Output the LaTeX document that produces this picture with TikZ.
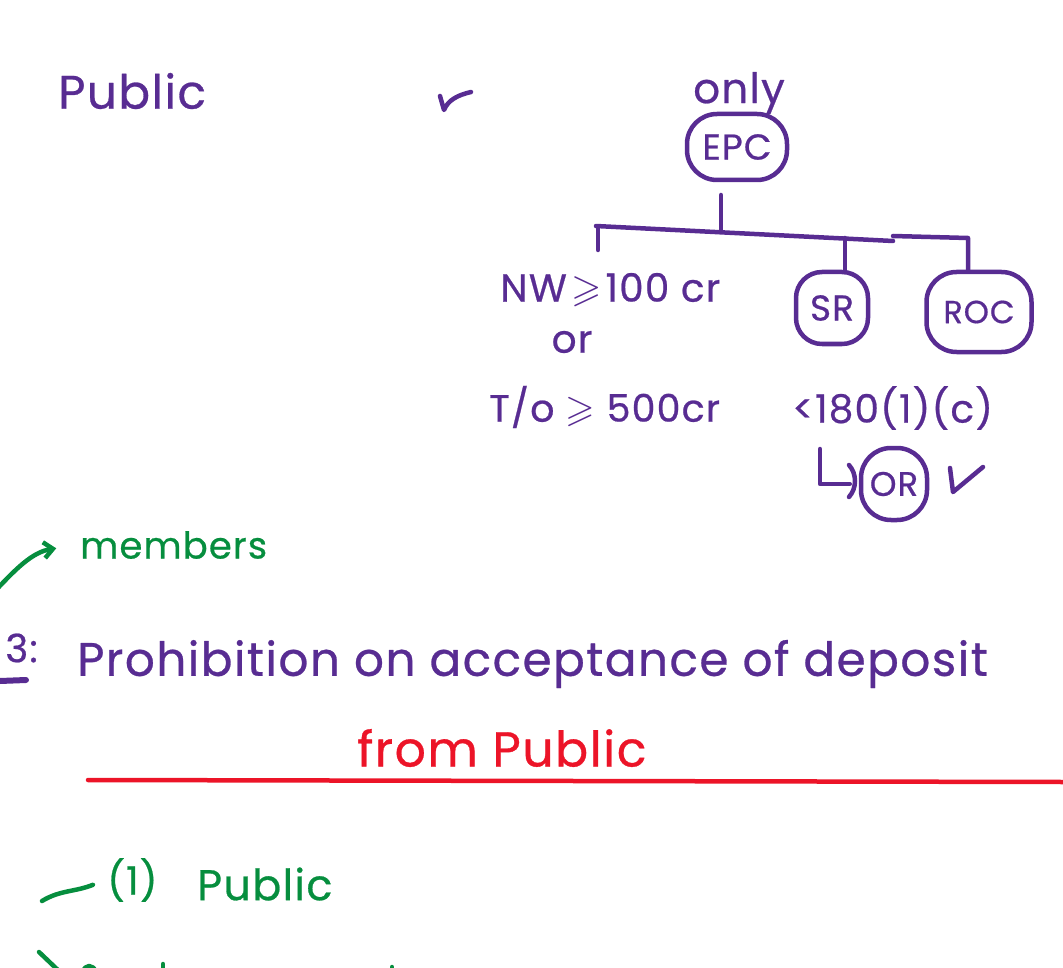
\documentclass[tikz,border=0pt]{standalone}
\usepackage{amssymb}
\usepackage{fontspec}
\setmainfont{Poppins}[LetterSpace=3,FakeBold=0.6]
\usetikzlibrary{arrows.meta}
\definecolor{penpurple}{RGB}{88,44,146}
\definecolor{pengreen}{RGB}{6,142,62}
\definecolor{penred}{RGB}{236,20,40}
\tikzset{every picture/.style={line width=4.5pt}}
\tikzset{
  ink/.style={line cap=round,line join=round},
  purpleink/.style={ink,color=penpurple},
  greenink/.style={ink,color=pengreen},
  redink/.style={ink,color=penred},
  notetext/.style={inner sep=0pt,font=\fontsize{47}{52}\selectfont},
  smalltext/.style={inner sep=0pt,font=\fontsize{39}{44}\selectfont},
  blob/.style={draw,rounded corners=30pt,inner sep=0pt,font=\fontsize{36}{40}\selectfont}
}

\begin{document}
\begin{tikzpicture}[x=1pt,y=1pt,yscale=-1,xscale=1]
\useasboundingbox (0,0) rectangle (1063,968);

% top row
\node (public) [notetext,purpleink,anchor=west] at (56,91) {Public};
\node (only) [smalltext,purpleink,font=\fontsize{42}{46}\selectfont] at (739,93) {only};

% boxes
\node (epc) [blob,purpleink,minimum width=100pt,minimum height=66pt] at (737,147) {EPC};
\node (sr) [blob,purpleink,rounded corners=26pt,minimum width=72pt,minimum height=72pt] at (832,308) {SR};
\node (roc) [blob,purpleink,font=\fontsize{32}{36}\selectfont,minimum width=105pt,minimum height=80pt] at (979,312) {ROC};
\node (or) [blob,purpleink,font=\fontsize{34}{38}\selectfont,minimum width=66pt,minimum height=72pt] at (894,484) {OR};

% labels
\node (nw) [smalltext,purpleink,anchor=west] at (498,290) {NW$\,\geqslant\,$100 cr};
\node (ortext) [smalltext,purpleink] at (572,342) {or};
\node (to) [smalltext,purpleink,anchor=west,font=\fontsize{38}{42}\selectfont] at (487,407) {T/o $\geqslant$ 500cr};
\node (sec) [smalltext,purpleink,anchor=west] at (790,408) {<180(1)(c)};

% tree lines
\coordinate (stem) at (721,195);
\coordinate (barl) at (596,226);
\coordinate (barm) at (721,231);
\coordinate (barr) at (893,241);
\coordinate (bars) at (845,238);
\coordinate (nwtop) at (598,250);
\coordinate (barn) at (598,227);
\coordinate (bar2) at (893,236);
\coordinate (bar3) at (968,238);
\draw [purpleink] (stem) -- (barm);
\draw [purpleink] (barl) -- (barr);
\draw [purpleink] (barn) -- (nwtop);
\draw [purpleink] (bars) -- (sr.north -| bars);
\draw [purpleink] (bar2) -- (bar3) -- (roc.north -| bar3);

% hook into OR and ticks
\coordinate (hooka) at (820,449);
\coordinate (hookb) at (820,484);
\draw [purpleink,shorten >=9pt] (hooka) -- (hookb) -- (or.west);
\coordinate (bowa) at (849,465);
\coordinate (bowb) at (849,497);
\draw [purpleink] (bowa) .. controls (857,474) and (857,488) .. (bowb);
\coordinate (ticka) at (440,96);
\coordinate (tickb) at (444,110);
\coordinate (tickc) at (471,92);
\draw [purpleink] (ticka) -- (tickb) .. controls (448,100) and (458,95) .. (tickc);
\coordinate (tickd) at (950,468);
\coordinate (ticke) at (953,492);
\coordinate (tickf) at (983,467);
\draw [purpleink] (tickd) -- (ticke) -- (tickf);

% section heading
\node (secno) [smalltext,purpleink,anchor=east] at (40,648) {3:};
\coordinate (ula) at (0,681);
\coordinate (ulb) at (26,680);
\draw [purpleink,line width=6pt] (ula) -- (ulb);
\node (heading) [notetext,purpleink,anchor=west] at (75,664) {Prohibition on acceptance of deposit};
\node (from) [notetext,redink,anchor=west,font=\fontsize{49}{54}\selectfont] at (355,748) {from Public};
\coordinate (rulea) at (88,780);
\coordinate (ruleb) at (1063,782);
\draw [redink] (rulea) -- (ruleb);

% green notes
\node (members) [smalltext,greenink,anchor=west,font=\fontsize{37}{42}\selectfont] at (78,545) {members};
\coordinate (arra) at (-4,590);
\draw [greenink,shorten >=22pt,-{Straight Barb[length=9pt,width=16pt]}] (arra) .. controls (15,570) and (32,552) .. (members.west);
\node (one) [smalltext,greenink,anchor=west] at (105,880) {(1)};
\node (pub2) [smalltext,greenink,anchor=west,font=\fontsize{43}{48}\selectfont] at (195,884) {Public};
\coordinate (linea) at (42,901);
\draw [greenink,shorten >=13pt] (linea) .. controls (60,890) and (75,892) .. (one.west);
\coordinate (lowa) at (39,952);
\coordinate (lowb) at (60,972);
\draw [greenink] (lowa) -- (lowb);
\coordinate (stuba) at (83,972);
\coordinate (stubb) at (96,972);
\draw [greenink] (stuba) .. controls (85,964) and (93,964) .. (stubb);
\coordinate (stubc) at (163,964);
\coordinate (stubd) at (163,972);
\draw [greenink] (stubc) -- (stubd);
\coordinate (stube) at (392,967);
\coordinate (stubf) at (392,972);
\draw [greenink] (stube) -- (stubf);
\end{tikzpicture}
\end{document}
